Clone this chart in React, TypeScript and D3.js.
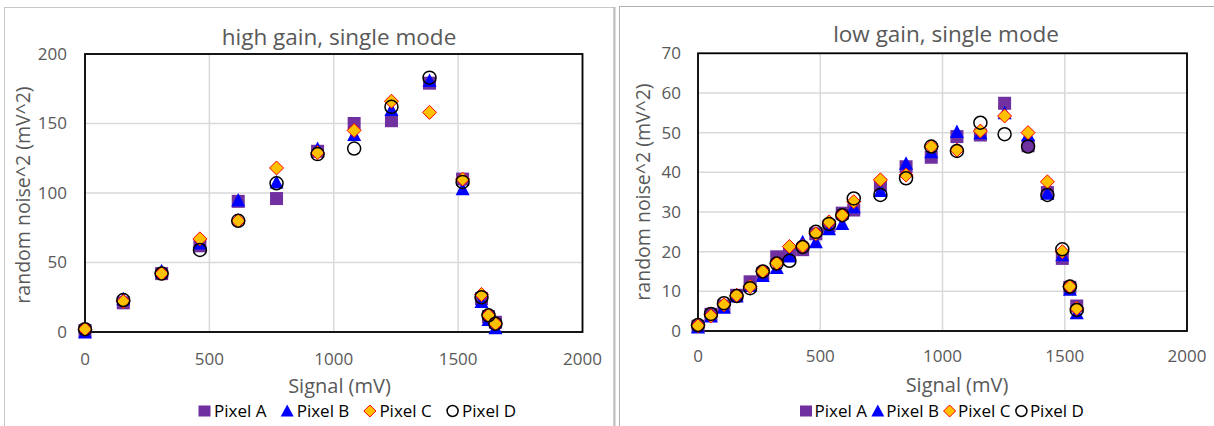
import React from "react";
import * as d3 from "d3";

// ---------- data: high gain ----------
const hgSignal = [0, 154, 308, 462, 616, 770, 935, 1082, 1232, 1385, 1518, 1594, 1622, 1650];
const hgPixelA = [1, 21, 42, 62, 94, 96, 130, 150, 152, 179, 110, 24, 11, 7];
const hgPixelB = [0, 24, 44, 64, 95, 108, 132, 142, 160, 181, 103, 22, 9, 3];
const hgPixelC = [2, 22, 42, 67, 80, 118, 129, 145, 166, 158, 110, 27, 12, 6];
const hgPixelD = [2, 23, 42, 59, 80, 107, 128, 132, 162, 183, 108, 25, 12, 6];

// ---------- data: low gain ----------
const lgSignal = [0, 53, 106, 158, 213, 265, 322, 374, 428, 482, 536, 590, 637, 746, 851, 954, 1059, 1155, 1254, 1350, 1429, 1490, 1521, 1549];
const lgPixelA = [1.2, 4.2, 6.3, 9.0, 12.4, 14.5, 18.7, 19.5, 20.5, 24.5, 26.5, 29.7, 30.5, 36.8, 41.4, 43.8, 49.0, 49.4, 57.4, 46.7, 34.9, 18.3, 11.0, 6.3];
const lgPixelB = [1.0, 3.8, 6.0, 8.8, 11.5, 14.0, 16.0, 18.9, 22.5, 22.5, 25.8, 27.1, 31.3, 35.4, 42.3, 45.2, 50.3, 50.0, 55.0, 49.5, 34.7, 19.2, 10.5, 4.6];
const lgPixelC = [1.3, 3.8, 6.6, 9.0, 11.2, 15.0, 17.1, 21.3, 21.4, 24.5, 27.5, 29.2, 32.6, 38.1, 39.3, 46.5, 45.6, 50.4, 54.2, 50.0, 37.6, 20.0, 11.2, 5.7];
const lgPixelD = [1.5, 4.3, 7.0, 8.8, 10.8, 15.0, 17.0, 17.7, 21.2, 25.0, 27.0, 29.2, 33.4, 34.3, 38.5, 46.5, 45.4, 52.5, 49.6, 46.5, 34.3, 20.6, 11.2, 5.3];

// ---------- tick labels ----------
const xTicks = [0, 500, 1000, 1500, 2000];
const hgYTicks = [0, 50, 100, 150, 200];
const lgYTicks = [0, 10, 20, 30, 40, 50, 60, 70];
const seriesNames = ["Pixel A", "Pixel B", "Pixel C", "Pixel D"];

const FONT = "'Open Sans', sans-serif";
const TXT = "#595959";

type Kind = "square" | "triangle" | "diamond" | "circle";
const kinds: Kind[] = ["square", "triangle", "diamond", "circle"];

function Marker({ kind, x, y }: { kind: Kind; x: number; y: number }) {
  if (kind === "square") {
    return <rect x={x - 6.5} y={y - 6.5} width={13} height={13} fill="#7030A0" />;
  }
  if (kind === "triangle") {
    const p = d3.path();
    p.moveTo(x, y - 7);
    p.lineTo(x + 7, y + 6.5);
    p.lineTo(x - 7, y + 6.5);
    p.closePath();
    return <path d={p.toString()} fill="#0000FF" />;
  }
  if (kind === "diamond") {
    const p = d3.path();
    p.moveTo(x, y - 7);
    p.lineTo(x + 7, y);
    p.lineTo(x, y + 7);
    p.lineTo(x - 7, y);
    p.closePath();
    return <path d={p.toString()} fill="#FFC000" stroke="#FF0000" strokeWidth={1} />;
  }
  return <circle cx={x} cy={y} r={6.5} fill="none" stroke="#000" strokeWidth={1.5} />;
}

function LegendMarker({ kind, x, y }: { kind: Kind; x: number; y: number }) {
  if (kind === "square") return <rect x={x - 6} y={y - 5.5} width={12} height={11} fill="#7030A0" />;
  if (kind === "triangle") {
    const p = d3.path();
    p.moveTo(x, y - 6.5);
    p.lineTo(x + 6.5, y + 5.5);
    p.lineTo(x - 6.5, y + 5.5);
    p.closePath();
    return <path d={p.toString()} fill="#0000FF" />;
  }
  if (kind === "diamond") {
    const p = d3.path();
    p.moveTo(x, y - 6);
    p.lineTo(x + 6, y);
    p.lineTo(x, y + 6);
    p.lineTo(x - 6, y);
    p.closePath();
    return <path d={p.toString()} fill="#FFC000" stroke="#FF0000" strokeWidth={1} />;
  }
  return <circle cx={x} cy={y} r={5.5} fill="none" stroke="#000" strokeWidth={1.5} />;
}

type ChartProps = {
  title: string;
  titleX: number;
  titleY: number;
  left: number;
  right: number;
  top: number;
  bottom: number;
  yMax: number;
  yTicks: number[];
  signal: number[];
  series: number[][];
  yLabelRight: number;
  xLabelY: number;
  xTitleX: number;
  xTitleY: number;
  yTitleX: number;
  yTitleY: number;
  legendX: number;
  legendStep: number;
  legendTextDx: number;
  legendY: number;
};

function Chart(p: ChartProps) {
  const x = d3.scaleLinear().domain([0, 2000]).range([p.left, p.right]);
  const y = d3.scaleLinear().domain([0, p.yMax]).range([p.bottom, p.top]);
  return (
    <g>
      <text x={p.titleX} y={p.titleY} textAnchor="middle" fontFamily={FONT} fontSize={22.5} fill={TXT}>
        {p.title}
      </text>
      {/* gridlines */}
      {p.yTicks.map((t) => (
        <line key={"gy" + t} x1={p.left} x2={p.right} y1={y(t)} y2={y(t)} stroke="#d9d9d9" strokeWidth={1.5} />
      ))}
      {xTicks.map((t) => (
        <line key={"gx" + t} x1={x(t)} x2={x(t)} y1={p.top} y2={p.bottom} stroke="#d9d9d9" strokeWidth={1.5} />
      ))}
      <rect x={p.left} y={p.top} width={p.right - p.left} height={p.bottom - p.top} fill="none" stroke="#000" strokeWidth={1.8} />
      {/* tick labels */}
      {p.yTicks.map((t) => (
        <text key={"ly" + t} x={p.yLabelRight} y={y(t)} dy="0.35em" textAnchor="end" fontFamily={FONT} fontSize={17} fill={TXT}>
          {t}
        </text>
      ))}
      {xTicks.map((t) => (
        <text key={"lx" + t} x={x(t)} y={p.xLabelY} dy="0.35em" textAnchor="middle" fontFamily={FONT} fontSize={17} fill={TXT}>
          {t}
        </text>
      ))}
      <text x={p.xTitleX} y={p.xTitleY} dy="0.35em" textAnchor="middle" fontFamily={FONT} fontSize={20} fill={TXT}>
        Signal (mV)
      </text>
      <text
        transform={`translate(${p.yTitleX},${p.yTitleY}) rotate(-90)`}
        dy="0.35em"
        textAnchor="middle"
        fontFamily={FONT}
        fontSize={19.5}
        fill={TXT}
      >
        random noise^2 (mV^2)
      </text>
      {/* points */}
      {p.series.map((vals, si) => (
        <g key={"s" + si}>
          {vals.map((v, i) => (
            <Marker key={i} kind={kinds[si]} x={x(p.signal[i])} y={y(v)} />
          ))}
        </g>
      ))}
      {/* legend */}
      {seriesNames.map((n, i) => {
        const cx = p.legendX + i * p.legendStep;
        return (
          <g key={"lg" + n}>
            <LegendMarker kind={kinds[i]} x={cx} y={p.legendY} />
            <text x={cx + p.legendTextDx} y={p.legendY} dy="0.35em" fontFamily={FONT} fontSize={17} fill="#000">
              {n}
            </text>
          </g>
        );
      })}
    </g>
  );
}

export default function App() {
  return (
    <svg width={1214} height={426} style={{ position: "absolute", left: 0, top: 0, background: "#fff" }}>
      <rect x={0} y={0} width={1214} height={426} fill="#fff" />
      <rect x={4.5} y={7.5} width={609.5} height={430} fill="#fff" stroke="#c6c6c6" strokeWidth={1} />
      <line x1={614.5} x2={614.5} y1={7} y2={426} stroke="#bdbdbd" strokeWidth={2} />
      <rect x={619.5} y={6.5} width={600} height={430} fill="#fff" stroke="#b0b0b0" strokeWidth={1} />
      <Chart
        title="high gain, single mode"
        titleX={339}
        titleY={45}
        left={85}
        right={582.5}
        top={54}
        bottom={332}
        yMax={200}
        yTicks={hgYTicks}
        signal={hgSignal}
        series={[hgPixelA, hgPixelB, hgPixelC, hgPixelD]}
        yLabelRight={67}
        xLabelY={359}
        xTitleX={339.5}
        xTitleY={386}
        yTitleX={23}
        yTitleY={195}
        legendX={204.5}
        legendStep={82.7}
        legendTextDx={9.5}
        legendY={411}
      />
      <Chart
        title="low gain, single mode"
        titleX={946}
        titleY={42}
        left={698}
        right={1187}
        top={53.3}
        bottom={331}
        yMax={70}
        yTicks={lgYTicks}
        signal={lgSignal}
        series={[lgPixelA, lgPixelB, lgPixelC, lgPixelD]}
        yLabelRight={681}
        xLabelY={356}
        xTitleX={957}
        xTitleY={385}
        yTitleX={643}
        yTitleY={192}
        legendX={806}
        legendStep={71.8}
        legendTextDx={8.5}
        legendY={411}
      />
    </svg>
  );
}
